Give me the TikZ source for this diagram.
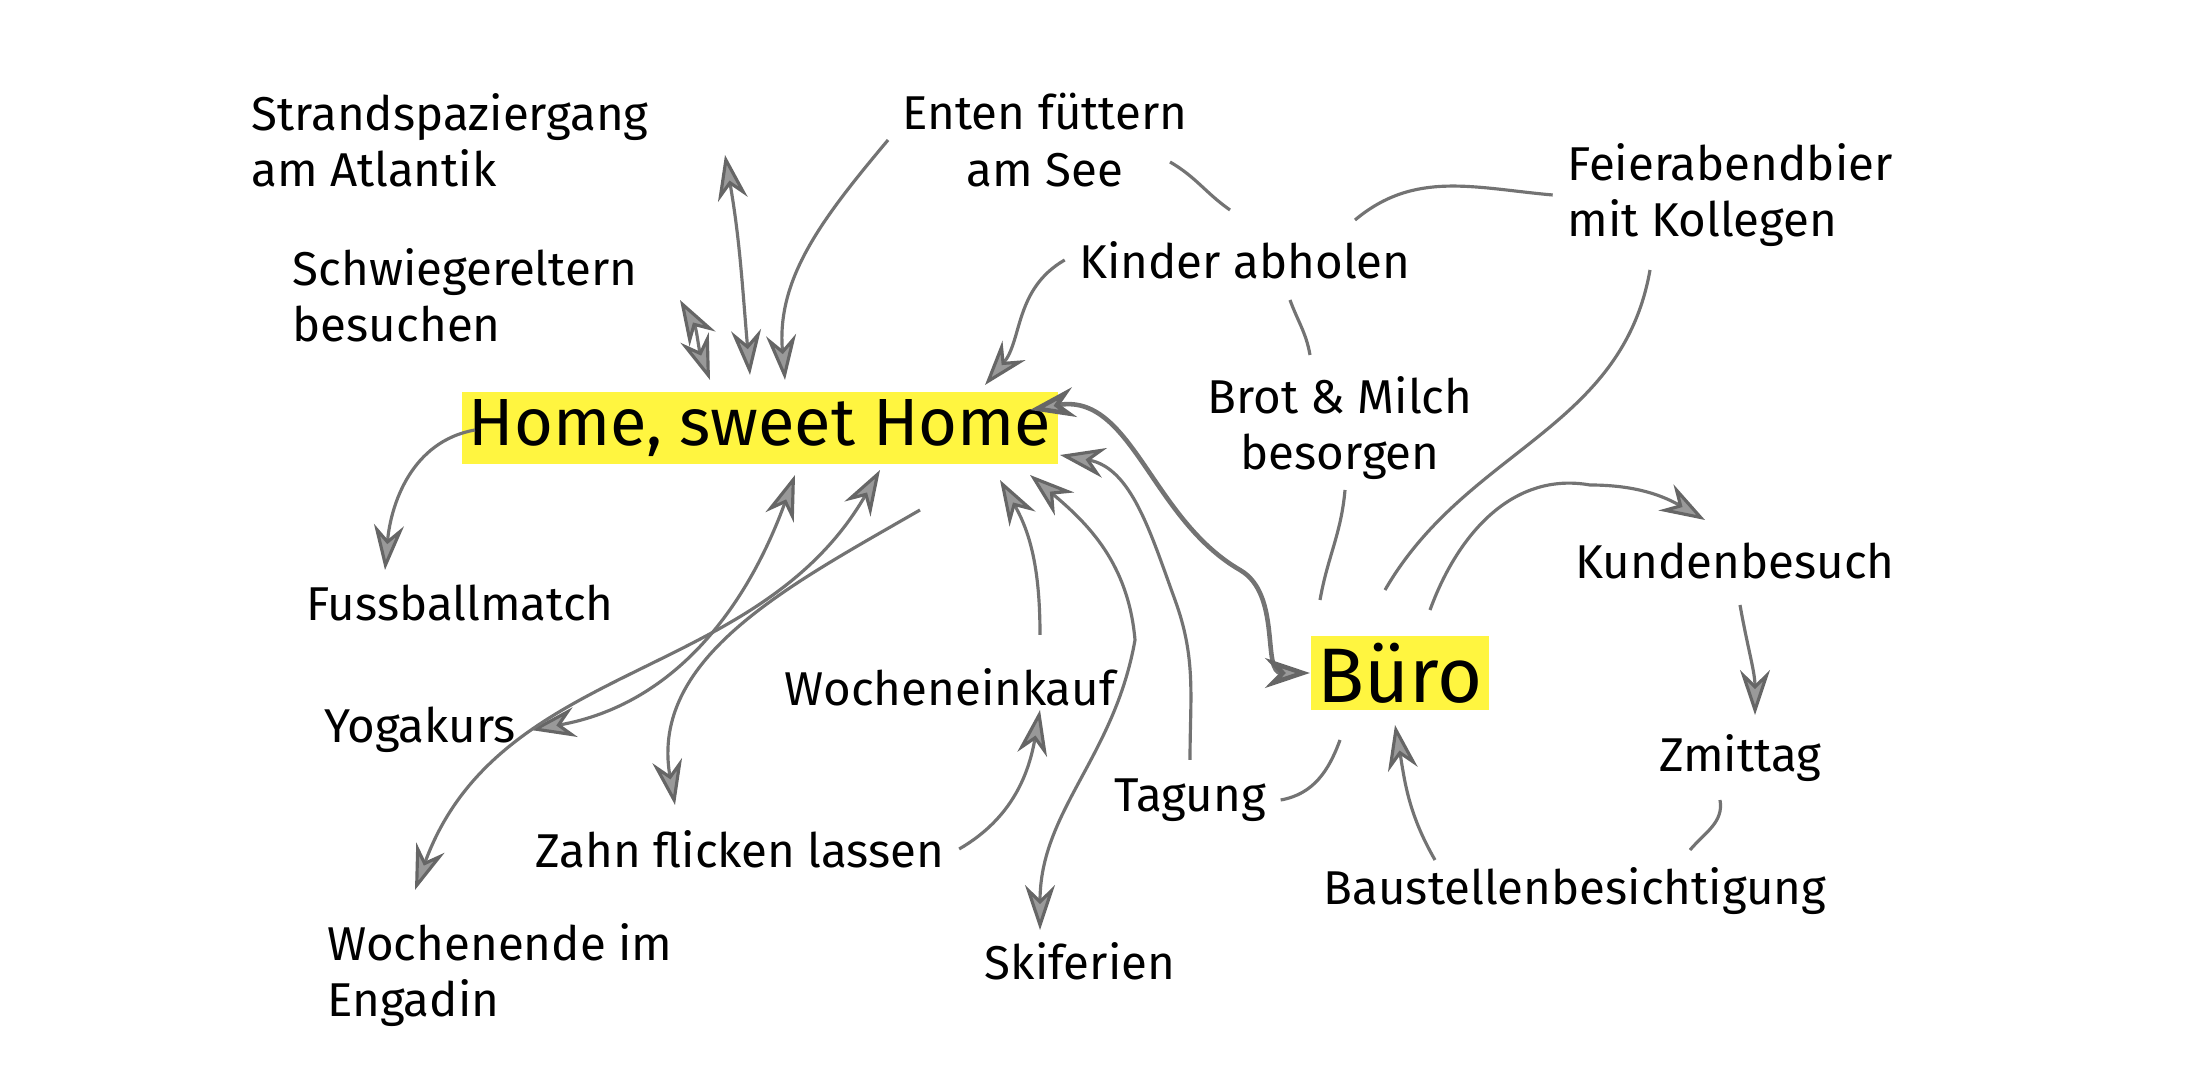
\documentclass[tikz,border=0pt]{standalone}
\usepackage{fontspec}
\setmainfont{Fira Sans}
\usetikzlibrary{arrows.meta}
\begin{document}
\begin{tikzpicture}[
  lbl/.style={font=\fontsize{13.5}{16}\selectfont, align=left, inner sep=4pt},
  big/.style={font=\fontsize{19}{22}\selectfont, inner sep=2pt, fill=yellow!75!white},
  con/.style={draw=black!55, line width=0.9pt},
  tip/.style={-{Stealth[length=4.5mm,width=3mm,fill=black!40,color=black!60]}},
  tips/.style={{Stealth[length=4.5mm,width=3mm,fill=black!40,color=black!60]}-{Stealth[length=4.5mm,width=3mm,fill=black!40,color=black!60]}}
]
\useasboundingbox (0,0) rectangle (22,10.8);
\node[big] (home) at (7.6,6.52) {Home, sweet Home};
\node[big,font=\fontsize{22}{24}\selectfont] (buero) at (14.0,4.07) {Büro};
\node[lbl] (strand) at (4.5,9.4) {Strandspaziergang\\am Atlantik};
\node[lbl,align=center] (enten) at (10.45,9.4) {Enten füttern\\am See};
\node[lbl] (feier) at (17.3,8.85) {Feierabendbier\\mit Kollegen};
\node[lbl] (kinder) at (12.45,8.2) {Kinder abholen};
\node[lbl] (schwieg) at (4.65,7.85) {Schwiegereltern\\besuchen};
\node[lbl,align=center] (brot) at (13.4,6.52) {Brot \& Milch\\besorgen};
\node[lbl] (fuss) at (4.6,4.77) {Fussballmatch};
\node[lbl] (kunden) at (17.35,5.19) {Kundenbesuch};
\node[lbl] (yoga) at (4.2,3.5) {Yogakurs};
\node[lbl] (wochen) at (9.5,3.93) {Wocheneinkauf};
\node[lbl] (zmittag) at (17.4,3.22) {Zmittag};
\node[lbl] (tagung) at (11.9,2.8) {Tagung};
\node[lbl] (zahn) at (7.4,2.31) {Zahn flicken lassen};
\node[lbl] (bau) at (15.75,1.89) {Baustellenbesichtigung};
\node[lbl] (engadin) at (5.0,1.05) {Wochenende im\\Engadin};
\node[lbl] (ski) at (10.8,1.19) {Skiferien};

\draw[con,tips] (7.25,9.25) to[out=-80,in=95] (7.5,7.05);
\draw[con,tip] (enten.west) to[out=230,in=95] (7.85,7.0);
\draw[con,tips] (6.8,7.8) to[out=-60,in=110] (7.1,7.0);
\draw[con,tip] (kinder.west) to[out=210,in=50] (9.85,6.95);
\draw[con] (11.7,9.18) to[out=-30,in=145] (12.3,8.7);
\draw[con] (12.9,7.8) to[out=-70,in=100] (13.1,7.25);
\draw[con] (13.45,5.9) to[out=-95,in=80] (13.2,4.8);
\draw[con] (13.55,8.6) to[out=40,in=175] (feier.west);
\draw[con] (16.5,8.1) to[out=-100,in=60] (13.85,4.9);
\draw[con,tips,line width=1.3pt] (10.3,6.7) to[out=10,in=150] (12.4,5.1) to[out=-30,in=180] (buero.west);
\draw[con,tip] (4.75,6.5) to[out=190,in=85] (3.85,5.1);
\draw[con,tips] (yoga.east) to[out=10,in=-110] (7.95,6.05);
\draw[con,tips] (4.15,1.9) to[out=70,in=-120] (8.8,6.1);
\draw[con,tip] (9.2,5.7) to[out=-150,in=100] (6.75,2.75);
\draw[con,tip] (zahn.east) to[out=30,in=-100] (10.4,3.7);
\draw[con,tip] (10.4,4.45) to[out=90,in=-60] (10.0,6.0);
\draw[con,tips] (10.3,6.05) to[out=-40,in=95] (11.35,4.4) to[out=-100,in=90] (10.4,1.5);
\draw[con,tip] (11.9,3.2) to[out=90,in=-70] (11.75,4.8) to[out=110,in=-10] (10.6,6.25);
\draw[con] (tagung.east) to[out=10,in=-110] (13.4,3.4);
\draw[con,tip] (14.3,4.7) to[out=70,in=170] (15.9,5.95) to[out=0,in=150] (17.05,5.6);
\draw[con,tip] (17.4,4.75) to[out=-80,in=90] (17.55,3.65);
\draw[con] (17.2,2.8) to[out=-80,in=50] (16.9,2.3);
\draw[con,tip] (14.35,2.2) to[out=120,in=-80] (13.95,3.55);
\end{tikzpicture}
\end{document}
